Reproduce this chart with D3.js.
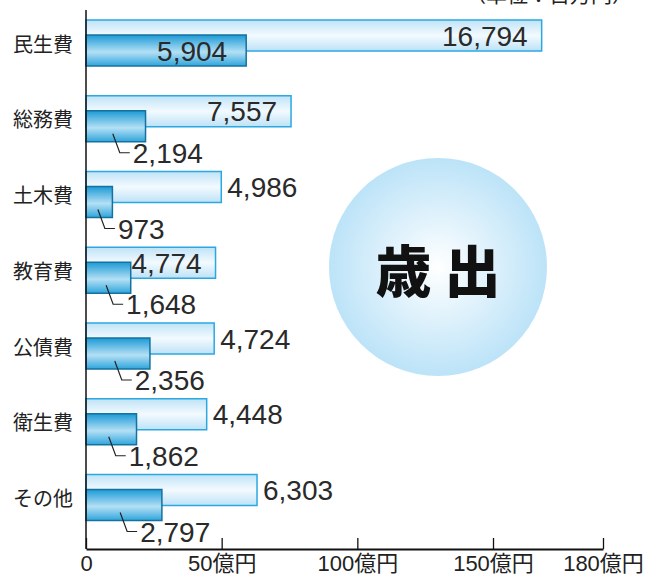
<!DOCTYPE html>
<html>
<head>
<meta charset="utf-8">
<script src="https://cdn.jsdelivr.net/npm/d3@7"></script>
<style>
  body { margin: 0; background: #fff; }
  svg { display: block; }
</style>
</head>
<body>
<div id="chart"></div>
<script>
// 単位：百万円
const categories = ["民生費", "総務費", "土木費", "教育費", "公債費", "衛生費", "その他"];
const totalValues = [16794, 7557, 4986, 4774, 4724, 4448, 6303];
const generalValues = [5904, 2194, 973, 1648, 2356, 1862, 2797];
const tickValues = [0, 5000, 10000, 15000, 18000];
const tickLabels = ["0", "50億円", "100億円", "150億円", "180億円"];
const totalLabelInside = [true, true, false, true, false, false, false];

const width = 647, height = 576;

const svg = d3.select("#chart")
  .append("svg")
  .attr("width", width)
  .attr("height", height);

const defs = svg.append("defs");

function linearGrad(id, stops) {
  const g = defs.append("linearGradient")
    .attr("id", id)
    .attr("x1", 0).attr("y1", 0).attr("x2", 0).attr("y2", 1);
  stops.forEach(s => g.append("stop").attr("offset", s[0]).attr("stop-color", s[1]));
}
linearGrad("lightGrad", [["0%", "#bfe3f6"], ["50%", "#f3faff"], ["100%", "#bde2f6"]]);
linearGrad("darkGrad", [["0%", "#1c9ad6"], ["55%", "#b4e0f5"], ["100%", "#2fa5dc"]]);

const rg = defs.append("radialGradient").attr("id", "circleGrad");
rg.append("stop").attr("offset", "0%").attr("stop-color", "#ffffff");
rg.append("stop").attr("offset", "100%").attr("stop-color", "#bce3f8");

// scales
const x = d3.scaleLinear().domain([0, 15000]).range([86, 493]);
// the 180億円 tick sits further right than a linear axis would put it
const xAxisScale = d3.scaleLinear().domain([0, 15000, 18000]).range([86, 493, 603]);

const y = d3.scaleBand()
  .domain(categories)
  .range([20, 20 + 75.75 * categories.length]);

const barH = 31, barOffset = 15;
const x0 = x(0);

// circle
svg.append("circle")
  .attr("cx", 438)
  .attr("cy", 267)
  .attr("r", 109)
  .attr("fill", "url(#circleGrad)");

svg.append("text")
  .attr("x", 438)
  .attr("y", 267)
  .attr("text-anchor", "middle")
  .attr("dominant-baseline", "central")
  .attr("font-family", "'Noto Sans CJK JP'")
  .attr("font-weight", 900)
  .attr("font-size", 56)
  .attr("fill", "#111")
  .text("歳 出");

// unit label (cut at the top edge, as in the source)
svg.append("text")
  .attr("x", 633)
  .attr("y", 2)
  .attr("text-anchor", "end")
  .attr("font-family", "'Noto Sans CJK JP'")
  .attr("font-size", 21)
  .attr("fill", "#222")
  .text("（単位：百万円）");

const rows = categories.map((c, i) => ({
  cat: c, total: totalValues[i], general: generalValues[i], i: i
}));

const g = svg.append("g");

// light bars (total)
g.selectAll(".light")
  .data(rows)
  .join("rect")
  .attr("class", "light")
  .attr("x", x0)
  .attr("y", d => y(d.cat))
  .attr("width", d => x(d.total) - x0)
  .attr("height", barH)
  .attr("fill", "url(#lightGrad)")
  .attr("stroke", "#2ba8e2")
  .attr("stroke-width", 1.5);

// dark bars (general account)
g.selectAll(".dark")
  .data(rows)
  .join("rect")
  .attr("class", "dark")
  .attr("x", x0)
  .attr("y", d => y(d.cat) + barOffset)
  .attr("width", d => x(d.general) - x0)
  .attr("height", barH)
  .attr("fill", "url(#darkGrad)")
  .attr("stroke", "#15729f")
  .attr("stroke-width", 1.5);

// category labels
g.selectAll(".cat")
  .data(rows)
  .join("text")
  .attr("class", "cat")
  .attr("x", 73)
  .attr("y", d => y(d.cat) + (barH + barOffset) / 2)
  .attr("text-anchor", "end")
  .attr("dominant-baseline", "central")
  .attr("font-family", "'Noto Sans CJK JP'")
  .attr("font-size", 20)
  .attr("fill", "#222")
  .text(d => d.cat);

const fmt = d3.format(",");
const numFont = "'Liberation Sans', Arial, sans-serif";

// total labels
g.selectAll(".tlab")
  .data(rows)
  .join("text")
  .attr("class", "tlab")
  .attr("x", d => totalLabelInside[d.i] ? x(d.total) - 14 : x(d.total) + 6)
  .attr("y", d => y(d.cat) + barH / 2 + 10)
  .attr("text-anchor", d => totalLabelInside[d.i] ? "end" : "start")
  .attr("font-family", numFont)
  .attr("font-size", 28)
  .attr("fill", "#2a2a2a")
  .text(d => fmt(d.total));

// general labels: first inside, others below with a leader line
const inside = rows.filter(d => d.i === 0);
const below = rows.filter(d => d.i !== 0);

g.selectAll(".glabIn")
  .data(inside)
  .join("text")
  .attr("class", "glabIn")
  .attr("x", d => x(d.general) - 19)
  .attr("y", d => y(d.cat) + barOffset + barH / 2 + 10)
  .attr("text-anchor", "end")
  .attr("font-family", numFont)
  .attr("font-size", 28)
  .attr("fill", "#2a2a2a")
  .text(d => fmt(d.general));

const leaderX = d => x0 + 0.45 * (x(d.general) - x0);
const darkBottom = d => y(d.cat) + barOffset + barH;

g.selectAll(".leader")
  .data(below)
  .join("path")
  .attr("class", "leader")
  .attr("d", d => {
    const lx = leaderX(d), b = darkBottom(d);
    return d3.line()([[lx, b - 8], [lx + 7, b + 11], [lx + 17, b + 11]]);
  })
  .attr("fill", "none")
  .attr("stroke", "#222")
  .attr("stroke-width", 1.2);

g.selectAll(".glab")
  .data(below)
  .join("text")
  .attr("class", "glab")
  .attr("x", d => leaderX(d) + 20)
  .attr("y", d => darkBottom(d) + 21)
  .attr("text-anchor", "start")
  .attr("font-family", numFont)
  .attr("font-size", 28)
  .attr("fill", "#2a2a2a")
  .text(d => fmt(d.general));

// axes
const axisY = 549;

svg.append("line")
  .attr("x1", x0).attr("x2", x0)
  .attr("y1", 10).attr("y2", axisY)
  .attr("stroke", "#111")
  .attr("stroke-width", 1.5);

const xAxis = svg.append("g")
  .attr("transform", "translate(0," + axisY + ")")
  .call(d3.axisBottom(xAxisScale)
    .tickValues(tickValues)
    .tickFormat((d, i) => tickLabels[i])
    .tickSize(-11)
    .tickSizeOuter(0)
    .tickPadding(6));

xAxis.select(".domain").attr("stroke", "#111").attr("stroke-width", 1.8);
xAxis.selectAll(".tick line").attr("stroke", "#111").attr("stroke-width", 1.3);
xAxis.selectAll(".tick text")
  .attr("font-family", numFont)
  .attr("font-size", 22)
  .attr("fill", "#222")
  .each(function (d, i) {
    const t = d3.select(this);
    const lbl = tickLabels[i];
    const num = lbl.replace("億円", "");
    t.text(null);
    t.append("tspan").text(num);
    if (lbl !== num) {
      t.append("tspan").attr("font-family", "'Noto Sans CJK JP'").text("億円");
    }
  });
</script>
</body>
</html>
